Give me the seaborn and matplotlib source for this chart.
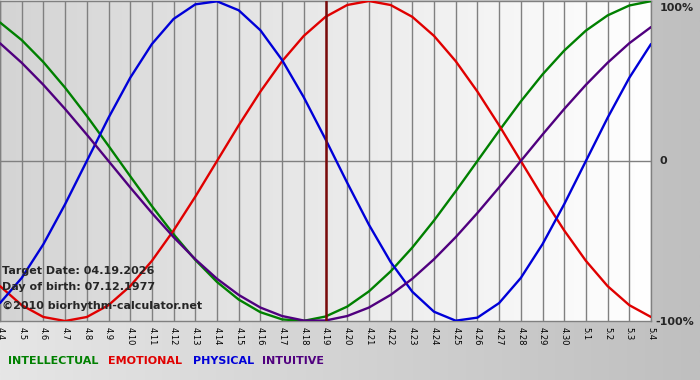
import numpy as np
import pandas as pd
import matplotlib
matplotlib.use("Agg")
import matplotlib.pyplot as plt
import seaborn as sns

# ---- data (values per day, -1..1 = -100%..100%) ----
day_labels = ["4.4", "4.5", "4.6", "4.7", "4.8", "4.9", "4.10", "4.11", "4.12", "4.13",
              "4.14", "4.15", "4.16", "4.17", "4.18", "4.19", "4.20", "4.21", "4.22", "4.23",
              "4.24", "4.25", "4.26", "4.27", "4.28", "4.29", "4.30", "5.1", "5.2", "5.3", "5.4"]

intellectual = [0.866, 0.756, 0.618, 0.458, 0.282, 0.095, -0.095, -0.282, -0.458, -0.618,
                -0.756, -0.866, -0.945, -0.990, -0.999, -0.972, -0.910, -0.815, -0.690, -0.541,
                -0.372, -0.189, 0.0, 0.189, 0.372, 0.541, 0.690, 0.815, 0.910, 0.972, 0.999]
emotional = [-0.782, -0.901, -0.975, -1.0, -0.975, -0.901, -0.782, -0.624, -0.434, -0.223,
             0.0, 0.223, 0.434, 0.624, 0.782, 0.901, 0.975, 1.0, 0.975, 0.901,
             0.782, 0.624, 0.434, 0.223, 0.0, -0.223, -0.434, -0.624, -0.782, -0.901, -0.975]
physical = [-0.888, -0.731, -0.520, -0.270, 0.0, 0.270, 0.520, 0.731, 0.888, 0.979,
            0.998, 0.942, 0.817, 0.631, 0.398, 0.136, -0.136, -0.398, -0.631, -0.817,
            -0.942, -0.998, -0.979, -0.888, -0.731, -0.520, -0.270, 0.0, 0.270, 0.520, 0.731]
intuitive = [0.736, 0.614, 0.476, 0.325, 0.165, 0.0, -0.165, -0.325, -0.476, -0.614,
             -0.736, -0.837, -0.916, -0.969, -0.997, -0.997, -0.969, -0.916, -0.837, -0.736,
             -0.614, -0.476, -0.325, -0.165, 0.0, 0.165, 0.325, 0.476, 0.614, 0.736, 0.837]

series_names = ["INTELLECTUAL", "EMOTIONAL", "PHYSICAL", "INTUITIVE"]
series_colors = ["#008000", "#e00000", "#0000d8", "#50007f"]
target_index = 15  # 4.19
y_labels = ["100%", "0", "-100%"]
info_lines = ["Target Date: 04.19.2026", "Day of birth: 07.12.1977", "\u00a92010 biorhythm-calculator.net"]

# ---- build long table ----
days = np.arange(len(day_labels))
frames = []
for name, vals in zip(series_names, [intellectual, emotional, physical, intuitive]):
    frames.append(pd.DataFrame({"day": days, "value": vals, "series": name}))
df = pd.concat(frames, ignore_index=True)

sns.set_style("white")
plt.rcParams["font.family"] = ["DejaVu Sans"]

W, H = 700, 380
fig = plt.figure(figsize=(7, 3.8), dpi=100)

# figure background gradient
bg = fig.add_axes([0, 0, 1, 1], zorder=-10)
grad = np.linspace(0, 1, 256)[None, :]
bg.imshow(grad, aspect="auto", cmap=matplotlib.colors.LinearSegmentedColormap.from_list(
    "bg", ["#e6e6e6", "#bfbfbf"]), extent=[0, 1, 0, 1])
bg.set_axis_off()

left_px, right_px, top_px, bot_px = 0, 651, 1, 321
ax = fig.add_axes([left_px / W, 1 - bot_px / H, (right_px - left_px) / W, (bot_px - top_px) / H])
ax.set_facecolor("none")
ax.imshow(grad, aspect="auto", cmap=matplotlib.colors.LinearSegmentedColormap.from_list(
    "pa", ["#d4d4d4", "#ffffff"]), extent=[0, len(days) - 1, -1, 1], zorder=0)

# grid
for d in days:
    ax.axvline(d, color="#808080", lw=1.0, zorder=1)
ax.axhline(0, color="#808080", lw=1.0, zorder=1)

sns.lineplot(data=df, x="day", y="value", hue="series", hue_order=series_names,
             palette=series_colors, ax=ax, legend=False, linewidth=1.7, sort=False, zorder=3)

ax.axvline(days[target_index], color="#7a0a0a", lw=1.8, zorder=4)

ax.set_xlim(0, len(days) - 1)
ax.set_ylim(-1, 1)
ax.set_xticks(days)
ax.set_xticklabels(day_labels, rotation=270, fontsize=6, color="black", va="top", ha="center")
ax.tick_params(axis="x", length=3, width=0.8, color="#808080", pad=1.5, direction="out")
ax.set_yticks([])
ax.set_xlabel("")
ax.set_ylabel("")
for side in ["top", "right", "bottom", "left"]:
    ax.spines[side].set_color("#808080")
    ax.spines[side].set_linewidth(1.0)

# right-side value labels
fig.text(660 / W, 1 - 8 / H, y_labels[0], fontsize=8, fontweight="bold", va="center", ha="left")
fig.text(660 / W, 1 - 161 / H, y_labels[1], fontsize=8, fontweight="bold", va="center", ha="left")
fig.text(655 / W, 1 - 322 / H, y_labels[2], fontsize=8, fontweight="bold", va="center", ha="left")

# info lines
for yy, txt in zip([271, 287, 306], info_lines):
    fig.text(2 / W, 1 - yy / H, txt, fontsize=8, fontweight="bold", va="center", ha="left", zorder=6)

# legend
for xx, name, col in zip([8, 108, 193, 262], series_names, series_colors):
    fig.text(xx / W, 1 - 361 / H, name, fontsize=8, fontweight="bold", color=col, va="center", ha="left")

fig.savefig("out.png", dpi=100)
